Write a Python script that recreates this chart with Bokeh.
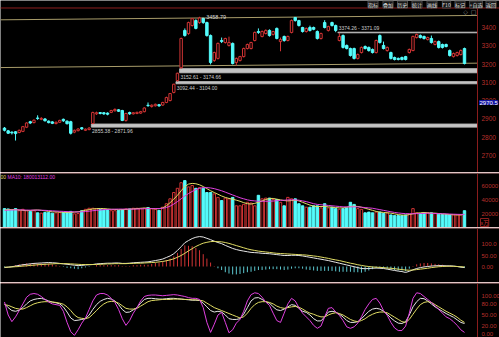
from bokeh.plotting import figure
from bokeh.layouts import column
from bokeh.models import Range1d, Label, Span
from bokeh.embed import file_html
from bokeh.resources import INLINE
from bokeh.core.properties import value

# ---------------- data ----------------
opens = [2850, 2835, 2828, 2830, 2826, 2832, 2855, 2885, 2880, 2905,
         2898, 2900, 2888, 2884, 2875, 2882, 2898, 2888, 2885, 2828,
         2836, 2852, 2838, 2842, 2875, 2928, 2935, 2934, 2932, 2936,
         2945, 2950, 2946, 2892, 2935, 2928, 2930, 2932, 2940, 2975,
         2968, 2972, 2978, 2976, 2990, 3001, 3045, 3110, 3180, 3384,
         3367, 3411, 3438, 3427, 3449, 3427, 3356, 3220, 3231, 3329,
         3318, 3302, 3313, 3209, 3220, 3241, 3285, 3285, 3329, 3378,
         3351, 3367, 3384, 3362, 3395, 3323, 3351, 3329, 3373, 3455,
         3438, 3400, 3378, 3400, 3400, 3378, 3340, 3427, 3384, 3427,
         3411, 3329, 3356, 3302, 3285, 3285, 3231, 3263, 3296, 3291,
         3280, 3263, 3356, 3302, 3274, 3263, 3236, 3231, 3236, 3241,
         3263, 3274, 3345, 3356, 3351, 3334, 3340, 3307, 3323, 3307,
         3307, 3274, 3241, 3247, 3252, 3285]
highs = [2856, 2840, 2832, 2834, 2842, 2862, 2882, 2890, 2898, 2920,
         2910, 2905, 2892, 2888, 2886, 2896, 2902, 2892, 2890, 2842,
         2850, 2856, 2848, 2855.38, 2940, 2940, 2938, 2938, 2936, 2950,
         2958, 2954, 2950, 2934, 2940, 2938, 2940, 2944, 2964, 2990,
         2980, 2984, 2982, 2994, 3022, 3042, 3092.44, 3152.61, 3345, 3395,
         3432, 3452, 3445, 3458.79, 3454, 3432, 3362, 3268, 3318, 3345,
         3344, 3350, 3318, 3236, 3245, 3290, 3312, 3322, 3378, 3395,
         3384, 3390, 3390, 3382, 3400, 3345, 3356, 3356, 3444, 3457,
         3442, 3404, 3400, 3410, 3405, 3384, 3372, 3440, 3410, 3432,
         3416, 3371.09, 3362, 3307, 3290, 3290, 3258, 3296, 3302, 3296,
         3285, 3334, 3362, 3323, 3296, 3268, 3241, 3236, 3241, 3245,
         3285, 3356, 3367, 3362, 3356, 3350, 3356, 3329, 3329, 3312,
         3312, 3280, 3263, 3268, 3280, 3290]
lows = [2832, 2818, 2815, 2782, 2822, 2828, 2850, 2872, 2876, 2895,
        2893, 2886, 2876, 2872, 2870, 2878, 2884, 2870, 2815, 2822,
        2832, 2840, 2834, 2838, 2871.96, 2922, 2925, 2922, 2920, 2932,
        2940, 2938, 2888, 2885, 2922, 2924, 2926, 2928, 2936, 2966,
        2962, 2968, 2966, 2972, 2986, 2996, 3040, 3104, 3174.66, 3350,
        3360, 3405, 3390, 3420, 3420, 3350, 3198, 3212, 3225, 3315,
        3312, 3296, 3198, 3192, 3214, 3236, 3280, 3280, 3324, 3365,
        3346, 3362, 3350, 3356, 3335, 3270, 3322, 3324, 3368, 3432,
        3405, 3372, 3372, 3378, 3385, 3334, 3334, 3395, 3378, 3405,
        3374.26, 3324, 3285, 3280, 3241, 3225, 3225, 3258, 3280, 3268,
        3258, 3258, 3312, 3280, 3268, 3225, 3220, 3220, 3220, 3220,
        3258, 3270, 3340, 3340, 3334, 3329, 3312, 3302, 3285, 3285,
        3291, 3241, 3236, 3241, 3247, 3198]
closes = [2838, 2822, 2824, 2820, 2838, 2858, 2878, 2878, 2893, 2903,
          2903, 2890, 2880, 2876, 2882, 2892, 2890, 2874, 2822, 2838,
          2845, 2846, 2844, 2850, 2935, 2934, 2930, 2928, 2926, 2946,
          2952, 2942, 2892, 2930, 2928, 2934, 2936, 2940, 2960, 2973,
          2975, 2980, 2972, 2990, 3017, 3039, 3090, 3150, 3340, 3356,
          3427, 3448, 3395, 3452, 3427, 3356, 3209, 3263, 3313, 3323,
          3340, 3318, 3203, 3231, 3241, 3285, 3307, 3318, 3373, 3373,
          3378, 3384, 3356, 3378, 3340, 3334, 3329, 3351, 3438, 3438,
          3411, 3378, 3395, 3384, 3390, 3340, 3367, 3400, 3405, 3411,
          3384, 3351, 3291, 3285, 3247, 3231, 3252, 3291, 3285, 3274,
          3263, 3329, 3318, 3285, 3291, 3231, 3225, 3225, 3225, 3225,
          3280, 3351, 3362, 3345, 3340, 3345, 3318, 3323, 3291, 3291,
          3296, 3247, 3258, 3263, 3274, 3203]
volumes = [27000, 26500, 25000, 27000, 24000, 26000, 24500, 23000, 24000, 21000,
           20500, 21500, 21500, 20500, 21000, 21500, 21500, 22000, 23000, 19500,
           20000, 24000, 26000, 27500,
           27500, 26500, 25500, 25000, 25500, 24000, 24000, 24500, 25500, 26500,
           26500, 27500, 27500, 27000, 27500, 28500, 27000, 26000, 24500, 29000,
           34000, 41000, 50000, 56000,
           64000, 67000, 58000, 60000, 56000, 57000, 56000, 50000, 50000, 48000,
           43000, 38500, 42000, 41000, 43000, 31000, 31000, 33000, 36000, 35000,
           31000, 46000, 41000, 42000, 42000, 40000, 40000, 36000, 31000, 43000,
           41000, 41000, 34000, 31000, 29000, 29000, 31000, 31000, 28000, 34000,
           28000, 29000, 27000, 26000, 27000, 28000, 36000, 33000, 27000, 26000,
           21000, 22000, 21000, 22000, 22000, 20000, 21000, 18000, 17000, 17000,
           17000, 18000, 19000, 27000, 21000, 20000, 21000, 21000, 21000, 20000,
           19000, 18500, 18500, 18000, 18000, 18000, 18000, 24000]
vol_ma5 = [25000, 25500, 25800, 25500, 25000, 24500, 24000, 24300, 24800, 25000,
           24500, 23800, 23000, 22500, 22300, 22000, 21800, 21500, 21500, 22000,
           22500, 23500, 24500, 25500, 26500, 27000, 27200, 27000, 26500, 26000,
           25800, 25500, 25500, 25800, 26200, 26500, 27000, 27500, 27800, 27500,
           27000, 26800, 27000, 28000, 31000, 35500, 40500, 46000, 52500, 58500,
           62000, 63000, 62500, 61000, 58500, 55500, 52500, 50000, 47500, 45000,
           43000, 41500, 40500, 39000, 37500, 35500, 34000, 33500, 34500, 36000,
           38000, 40000, 41500, 41500, 40500, 39500, 38500, 38000, 38500, 39000,
           38000, 36000, 34000, 32000, 30500, 30000, 30000, 30000, 29500, 29000,
           28500, 28000, 28000, 29000, 30000, 30500, 30000, 29000, 27500, 26000,
           24500, 23000, 22000, 21500, 21000, 20500, 19500, 18500, 17800, 17500,
           18500, 19500, 20500, 21000, 21500, 21000, 20500, 20500, 20000, 19500,
           19000, 18500, 18300, 18000, 18000, 19000]
vol_ma10 = [24500, 24800, 25000, 25200, 25200, 25000, 24800, 24800, 24800, 24800,
            24700, 24500, 24200, 23800, 23500, 23200, 23000, 22700, 22500, 22300,
            22200, 22400, 22800, 23300, 24000, 24500, 25000, 25500, 25800, 26000,
            26200, 26300, 26300, 26300, 26300, 26300, 26400, 26600, 26800, 27000,
            27000, 27000, 27100, 27500, 28500, 30500, 33500, 37000, 41000, 45000,
            48500, 51500, 54000, 56000, 57000, 57000, 56500, 55500, 54000, 52500,
            50500, 48500, 46500, 44500, 42500, 41000, 39500, 38500, 38000, 37500,
            37500, 37500, 37500, 37800, 38200, 38700, 39000, 39300, 39500, 39500,
            39000, 38000, 37000, 35500, 34000, 33000, 32500, 32000, 31500, 31000,
            30500, 30000, 29500, 29500, 29500, 29500, 29500, 29000, 28500, 28000,
            27500, 26500, 25500, 24500, 23500, 22500, 21500, 20800, 20200, 19800,
            19700, 19700, 19800, 20000, 20200, 20400, 20300, 20000, 19800, 19600,
            19400, 19200, 19000, 18800, 18700, 18700]
dif = [-5, -3, -1, 2, 5, 8, 10, 12, 14, 15,
       16, 17, 18, 17, 16, 14, 12, 10, 8, 6,
       4, 5, 7, 8, 9, 12, 13, 14, 15, 15,
       16, 16, 14, 14, 15, 17, 18, 19, 20, 21,
       24, 27, 30, 34, 41, 48, 58, 73, 90, 108,
       118, 127, 133, 136, 134, 128, 122, 115, 109, 104,
       96, 89, 82, 77, 73, 70, 67, 64, 63, 62,
       60, 59, 58, 56, 54, 52, 50, 50, 51, 51,
       50, 48, 45, 42, 39, 36, 33, 30, 27, 23,
       19, 15, 11, 7, 3, -1, -5, -9, -10, -9,
       -8, -7, -8, -9, -12, -15, -18, -21, -23, -27,
       -22, -15, -9, -5, -2, 0, 2, 3, 4, 4,
       3, 3, 2, 0, -3, -5]
dea = [-3, -3, -2, -1, 0, 2, 3, 5, 6, 8,
       9, 10, 11, 12, 13, 13, 13, 13, 12, 11,
       10, 9, 9, 9, 9, 9, 10, 11, 12, 12,
       13, 13, 13, 13, 14, 14, 15, 15, 16, 17,
       18, 19, 21, 23, 26, 30, 35, 42, 50, 60,
       71, 81, 91, 99, 106, 110, 113, 114, 113, 112,
       109, 105, 100, 95, 90, 85, 80, 76, 73, 70,
       68, 66, 64, 62, 60, 59, 58, 57, 56, 55,
       54, 53, 52, 50, 48, 46, 43, 40, 37, 33,
       30, 27, 23, 19, 15, 12, 8, 5, 2, 0,
       -2, -3, -4, -5, -7, -8, -10, -12, -14, -16,
       -17, -16, -14, -12, -10, -8, -5, -3, -1, 0,
       1, 1, 1, 0, -1, -2]
macd_hist = [-4, 0, 2, 6, 10, 12, 14, 14, 16, 14,
             14, 14, 14, 10, 6, 2, -2, -6, -8, -10,
             -12, -8, -4, -2, 0, 6, 6, 6, 6, 6,
             6, 6, 2, 2, 2, 6, 6, 8, 8, 8,
             12, 16, 18, 22, 30, 36, 46, 62, 80, 96,
             94, 92, 84, 74, 56, 36, 18, 2, -8, -16,
             -26, -32, -36, -36, -34, -30, -26, -24, -20, -16,
             -16, -14, -12, -12, -12, -14, -16, -14, -10, -8,
             -8, -10, -14, -16, -18, -20, -20, -20, -20, -20,
             -22, -24, -24, -24, -24, -26, -26, -28, -24, -18,
             -12, -8, -8, -8, -10, -14, -16, -18, -18, -22,
             -10, 2, 10, 14, 16, 16, 14, 12, 10, 8,
             4, 4, 2, 0, -4, -6]
k_line = [80, 70, 62, 60, 63, 70, 80, 88, 92, 94,
          95, 92, 88, 85, 83, 80, 72, 58, 42, 35,
          36, 38, 40, 50, 65, 78, 87, 92, 95, 93,
          88, 78, 65, 57, 58, 64, 70, 82, 92, 95,
          95, 94, 93, 93, 94, 95, 95, 94, 93, 92,
          91, 90, 90, 89, 82, 72, 62, 58, 60, 58,
          50, 40, 38, 38, 40, 52, 70, 88, 96, 97,
          92, 86, 82, 72, 64, 62, 66, 72, 78, 76,
          68, 60, 57, 50, 40, 34, 34, 45, 58, 60,
          58, 52, 45, 35, 30, 30, 32, 40, 50, 60,
          66, 68, 66, 60, 52, 42, 34, 28, 27, 32,
          50, 72, 86, 95, 94, 88, 80, 72, 66, 60,
          54, 49, 44, 37, 30, 27]
d_line = [78, 76, 72, 68, 66, 66, 70, 75, 80, 83,
          85, 86, 86, 85, 84, 82, 79, 72, 62, 50,
          43, 41, 40, 43, 52, 62, 72, 80, 85, 87,
          86, 82, 75, 68, 66, 66, 68, 74, 80, 86,
          89, 90, 91, 92, 92, 92, 93, 93, 93, 92,
          92, 91, 91, 90, 88, 82, 76, 70, 66, 62,
          58, 54, 50, 46, 42, 45, 55, 68, 78, 84,
          86, 86, 84, 80, 74, 70, 68, 70, 72, 73,
          71, 66, 60, 55, 52, 48, 45, 45, 50, 54,
          56, 54, 50, 44, 38, 34, 32, 35, 40, 47,
          52, 56, 58, 58, 56, 50, 44, 38, 32, 30,
          38, 52, 66, 78, 84, 86, 84, 78, 72, 66,
          60, 55, 50, 44, 36, 30]
j_line = [85, 50, 32, 45, 62, 80, 98, 106, 108, 106,
          100, 92, 85, 80, 78, 76, 60, 30, 5, -5,
          10, 28, 42, 65, 88, 104, 108, 108, 104, 95,
          84, 65, 40, 22, 35, 55, 70, 88, 100, 103,
          104, 104, 103, 102, 103, 104, 105, 104, 102, 100,
          97, 95, 95, 92, 70, 30, 3, 25, 50, 57,
          30, 2, 10, 28, 38, 60, 88, 105, 110, 108,
          98, 85, 76, 55, 35, 30, 55, 80, 95, 88,
          70, 55, 45, 35, 22, 14, 20, 45, 68, 70,
          58, 49, 35, 18, 14, 18, 28, 45, 65, 80,
          92, 95, 82, 62, 49, 30, 15, 8, 8, 20,
          55, 95, 110, 108, 100, 92, 84, 75, 65, 55,
          45, 40, 32, 22, 10, 3]

price_ticks = [2700, 2800, 2900, 3000, 3100, 3200, 3300, 3400]
price_tick_labels = ["2700", "2800", "2900", "3000", "3100", "3200", "3300", "3400"]
vol_ticks = [20000, 40000, 60000]
vol_tick_labels = ["20000", "40000", "60000"]
macd_ticks = [0, 50, 100]
macd_tick_labels = ["0.00", "50.00", "100.0"]
kdj_ticks = [0, 20, 50, 80, 100]
kdj_tick_labels = ["0.00", "20.00", "50.00", "80.00", "100.00"]

gap_index = [24, 47, 48, 91]
gap_low = [2855.38, 3092.44, 3152.61, 3371.09]
gap_high = [2871.96, 3104.00, 3174.66, 3374.26]

channel_top = [3442, 3466]
channel_bottom = [3181, 3205]

cursor_price = "2970.5"
vol_title_a = "00"
vol_title_b = "MA10: 180013112.00"
vol_unit = "x万"
buttons = ["指标", "叠加", "历史", "统计", "画线", "F10", "标记", "+自选", "返回"]

for arr in (opens, highs, lows, volumes, vol_ma5, vol_ma10, dif, dea, macd_hist,
            k_line, d_line, j_line):
    assert len(arr) == len(closes), len(arr)

# ---------------- styling / layout ----------------
RED = "#d03434"
CYAN = "#54fcfc"
FRAME = "#8c1e1e"
AXIS_TXT = "#b8302c"
WHITE = "#e6e6e6"
YELLOW = "#e0dc64"
MAGENTA = "#e040e0"
NUMFONT = "Liberation Sans"
W = 499

N = len(closes)
xs = list(range(N))
XR = Range1d(-1.087, 134.51)   # whole width, candles on the left 477 px
AXIS_X = 128.53                # data x where the right price scale begins
PRICE_TOP = 3547.6             # price at the very top of the window
PANEL_LINE = 3506.6            # price of the red line under the button strip


def make(fh, y0, y1, top=1):
    p = figure(frame_width=W, frame_height=fh, x_range=XR, y_range=Range1d(y0, y1),
               output_backend="svg", toolbar_location=None,
               min_border_left=0, min_border_right=0, min_border_top=top, min_border_bottom=0,
               x_axis_location=None, y_axis_location=None,
               background_fill_color="black", border_fill_color=FRAME,
               outline_line_color=None)
    p.grid.visible = False
    p.add_layout(Span(location=AXIS_X, dimension="height", line_color=FRAME, line_width=1))
    return p


def scale_labels(p, ticks, labels, size="6px"):
    p.text(x=[AXIS_X] * len(ticks), y=ticks, text=labels, x_offset=4,
           text_baseline="middle", text_align="left", text_color=AXIS_TXT,
           text_font=value(NUMFONT), text_font_size=size)


def sub(arr, idx):
    return [arr[i] for i in idx]


up_idx = [i for i in xs if closes[i] >= opens[i]]
dn_idx = [i for i in xs if closes[i] < opens[i]]

# ---------------- main price panel (with the button strip on top) ----------------
p1 = make(172, 2607.3, PRICE_TOP, top=0)
p1.add_layout(Span(location=PANEL_LINE, dimension="width", line_color=FRAME, line_width=1))
scale_labels(p1, price_ticks, price_tick_labels, "6.5px")

p1.line([XR.start, AXIS_X], channel_top, line_color="#a89c6a", line_width=1)
p1.line([XR.start, AXIS_X], channel_bottom, line_color="#a89c6a", line_width=1)

for g, lo, hi in zip(gap_index, gap_low, gap_high):
    up_gap = lows[g] >= hi - 0.001
    p1.quad(left=[g - 0.4], right=[AXIS_X], bottom=[lo], top=[hi],
            fill_color="#c4c4c4", line_color="#b8b8b8", line_width=1)
    txt = f"{lo:.2f} - {hi:.2f}" if up_gap else f"{hi:.2f} - {lo:.2f}"
    p1.text(x=[g - 0.2], y=[lo if up_gap else hi], text=[txt],
            text_baseline="top" if up_gap else "bottom", y_offset=1 if up_gap else -1,
            text_color="#cfcfcf", text_font=value(NUMFONT), text_font_size="5px")

for idx, col, fill in ((up_idx, RED, "black"), (dn_idx, CYAN, CYAN)):
    p1.segment(x0=sub(xs, idx), y0=sub(highs, idx), x1=sub(xs, idx), y1=sub(lows, idx),
               line_color=col, line_width=1)
    p1.vbar(x=sub(xs, idx), width=0.66,
            top=[max(opens[i], closes[i]) for i in idx],
            bottom=[min(opens[i], closes[i]) for i in idx],
            fill_color=fill, line_color=col, line_width=1)

peak = max(highs)
pk = highs.index(peak)
p1.text(x=[pk + 0.3], y=[peak], text=["\u2190" + f"{peak:.2f}"], text_baseline="middle",
        text_color="#d8d8d8", text_font=value(NUMFONT), text_font_size="5.5px")

# button strip
btn_x = [372.5, 387.5, 402, 416.5, 431.5, 446, 459.5, 475.5, 490.5]
for bx, b in zip(btn_x, buttons):
    p1.add_layout(Label(x=bx, y=168, x_units="screen", y_units="screen", text=b,
                        text_align="center", text_baseline="middle",
                        text_color="#e0e0e0", text_font="Noto Sans CJK SC", text_font_size="5px",
                        background_fill_color="#161616", border_line_color="#4a4a4a"))

p1.add_layout(Label(x=465, y=161, x_units="screen", y_units="screen", text="\u25c7",
                    text_align="center", text_baseline="middle", text_color="#9a9a9a",
                    text_font="DejaVu Sans", text_font_size="6px"))
p1.add_layout(Label(x=473, y=161, x_units="screen", y_units="screen", text="\u25a2",
                    text_align="center", text_baseline="middle", text_color="#9a9a9a",
                    text_font="DejaVu Sans", text_font_size="6px"))
p1.add_layout(Label(x=479, y=70, x_units="screen", y_units="screen", text=cursor_price,
                    text_align="left", text_baseline="middle", text_color="#ffffff",
                    text_font=NUMFONT, text_font_size="6px",
                    background_fill_color="#1414a0", border_line_color="#1414a0"))

# ---------------- volume panel ----------------
p2 = make(54, 0, 77143)
scale_labels(p2, vol_ticks, vol_tick_labels)
for idx, col, fill in ((up_idx, RED, "black"), (dn_idx, CYAN, CYAN)):
    p2.vbar(x=sub(xs, idx), width=0.66, top=sub(volumes, idx), bottom=0,
            fill_color=fill, line_color=col, line_width=1)
p2.line(xs, vol_ma5, line_color=YELLOW, line_width=1)
p2.line(xs, vol_ma10, line_color=MAGENTA, line_width=1)
p2.add_layout(Label(x=0, y=51, x_units="screen", y_units="screen", text=vol_title_a,
                    text_baseline="middle", text_color=YELLOW, text_font=NUMFONT,
                    text_font_size="5px"))
p2.add_layout(Label(x=7, y=51, x_units="screen", y_units="screen", text=vol_title_b,
                    text_baseline="middle", text_color=MAGENTA, text_font=NUMFONT,
                    text_font_size="5px"))
p2.add_layout(Label(x=480, y=5, x_units="screen", y_units="screen", text=vol_unit,
                    text_baseline="middle", text_color=RED, text_font="Noto Sans CJK SC",
                    text_font_size="5.5px", border_line_color=FRAME))

# ---------------- MACD panel ----------------
p3 = make(54, -72.7, 172.7)
scale_labels(p3, macd_ticks, macd_tick_labels)
pos = [i for i in xs if macd_hist[i] >= 0]
neg = [i for i in xs if macd_hist[i] < 0]
p3.segment(x0=sub(xs, pos), y0=[0] * len(pos), x1=sub(xs, pos), y1=sub(macd_hist, pos),
           line_color=RED, line_width=1)
p3.segment(x0=sub(xs, neg), y0=[0] * len(neg), x1=sub(xs, neg), y1=sub(macd_hist, neg),
           line_color="#5cc8d0", line_width=1)
p3.line(xs, dif, line_color=WHITE, line_width=1)
p3.line(xs, dea, line_color=YELLOW, line_width=1)

# ---------------- KDJ panel ----------------
p4 = make(54, -10.8, 135.1)
scale_labels(p4, kdj_ticks, kdj_tick_labels)
p4.line(xs, k_line, line_color=WHITE, line_width=1)
p4.line(xs, d_line, line_color=YELLOW, line_width=1)
p4.line(xs, j_line, line_color=MAGENTA, line_width=1)

layout = column(p1, p2, p3, p4, spacing=0)
open("out.html", "w").write(file_html(layout, INLINE))
